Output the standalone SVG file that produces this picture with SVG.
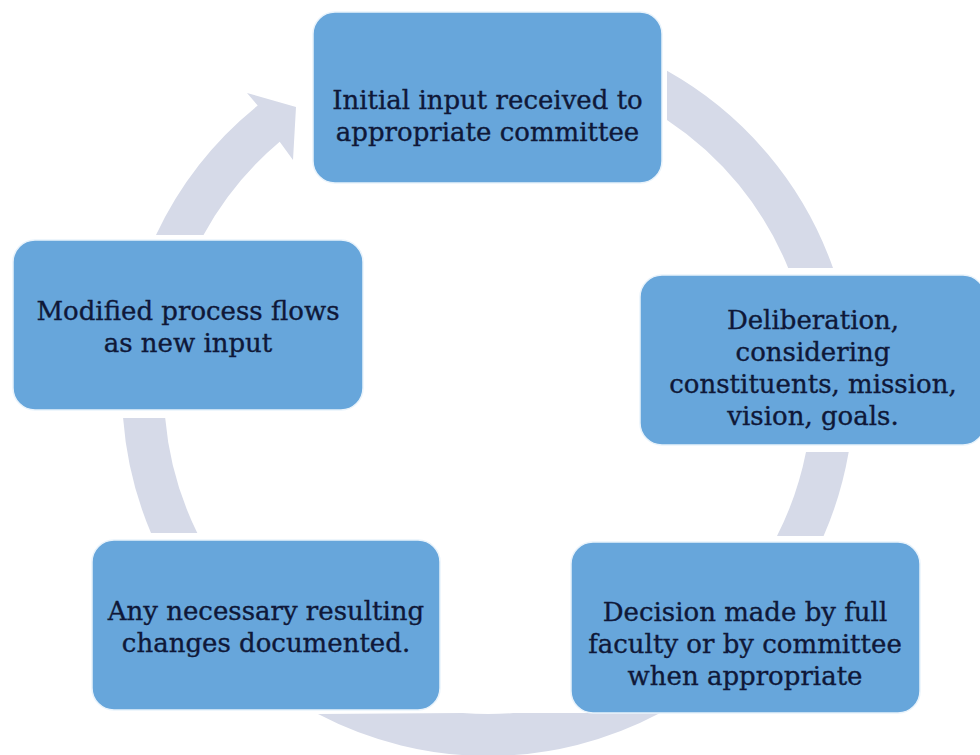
<svg xmlns="http://www.w3.org/2000/svg" width="980" height="755" viewBox="0 0 980 755">
<style>
.arc{fill:#d6dae8;}
.box{fill:#67a6db;stroke:#e9f3fb;stroke-width:1.5;}
.t{font-family:"DejaVu Serif","Liberation Serif",serif;font-size:26px;fill:#0f1838;stroke:#0f1838;stroke-width:0.35;text-anchor:middle;}
</style>
<rect width="980" height="755" fill="#ffffff"/>
<g id="connectors">
<path class="arc" d="M156,235 A366,366 0 0 1 257.7,105.6 L247,93 L296,107 L293,160 L279.7,141.8 A324,324 0 0 0 203.5,235 Z"/>
<path class="arc" d="M667,70.8 A366,366 0 0 1 833,268 L788.2,268 A324,324 0 0 0 667,120 Z"/>
<path class="arc" d="M848.7,452 A366,366 0 0 1 823.6,536 L777,536 A324,324 0 0 0 806,452 Z"/>
<path class="arc" d="M660.1,713 A366,366 0 0 1 318,714 L462.6,713 A324,324 0 0 0 513.4,713 Z"/>
<path class="arc" d="M151,533 A366,366 0 0 1 123.1,418 L165.2,418 A324,324 0 0 0 197.3,533 Z"/>
</g>
<g id="node-initial">
<rect class="box" x="313" y="12" width="349" height="171" rx="22"/>
<text class="t" x="487.5" y="109">Initial input received to</text>
<text class="t" x="487.5" y="141">appropriate committee</text>
</g>
<g id="node-deliberation">
<rect class="box" x="640" y="275" width="345" height="170" rx="22"/>
<text class="t" x="813" y="329">Deliberation,</text>
<text class="t" x="813" y="361">considering</text>
<text class="t" x="813" y="393">constituents, mission,</text>
<text class="t" x="813" y="425">vision, goals.</text>
</g>
<g id="node-decision">
<rect class="box" x="571" y="542" width="349" height="171" rx="22"/>
<text class="t" x="745" y="621">Decision made by full</text>
<text class="t" x="745" y="653">faculty or by committee</text>
<text class="t" x="745" y="685">when appropriate</text>
</g>
<g id="node-changes">
<rect class="box" x="92" y="540" width="348" height="170" rx="22"/>
<text class="t" x="266" y="620">Any necessary resulting</text>
<text class="t" x="266" y="652">changes documented.</text>
</g>
<g id="node-modified">
<rect class="box" x="13" y="240" width="350" height="170" rx="22"/>
<text class="t" x="188" y="320">Modified process flows</text>
<text class="t" x="188" y="352">as new input</text>
</g>
</svg>
